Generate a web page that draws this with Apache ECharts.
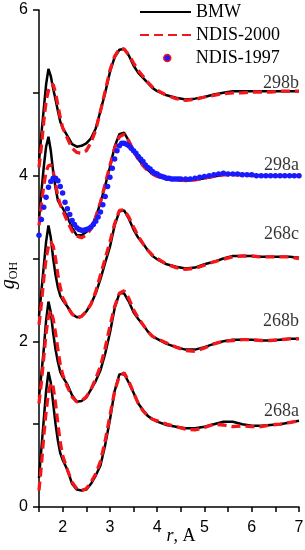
<!DOCTYPE html>
<html>
<head>
<meta charset="utf-8">
<script src="https://cdn.jsdelivr.net/npm/echarts@6/dist/echarts.min.js"></script>
<style>html,body{margin:0;padding:0;background:#fff;}#c{width:305px;height:550px;}</style>
</head>
<body>
<div id="c"></div>
<script>
// shared r grid for the BMW and NDIS-2000 curves
const rGrid = [1.5,1.55,1.6,1.65,1.7,1.75,1.8,1.85,1.9,1.95,2.0,2.1,2.2,2.3,2.4,2.5,2.6,2.7,2.8,2.9,3.0,3.1,3.2,3.3,3.4,3.5,3.6,3.7,3.8,3.9,4.0,4.2,4.4,4.6,4.8,5.0,5.2,5.4,5.6,5.8,6.0,6.2,6.4,6.6,6.8,7.0];

// displayed (shifted) values
const bmw268a  = [0.35,0.7,1.05,1.4,1.63,1.5,1.25,1.0,0.8,0.65,0.57,0.45,0.28,0.21,0.2,0.21,0.28,0.38,0.5,0.75,1.05,1.4,1.6,1.61,1.5,1.38,1.25,1.17,1.1,1.06,1.03,0.99,0.97,0.95,0.95,0.97,1.0,1.03,1.03,1.0,0.98,0.98,0.99,1.0,1.02,1.04];
const ndis268a = [0.2,0.5,0.85,1.15,1.38,1.5,1.45,1.25,1.0,0.78,0.62,0.45,0.3,0.22,0.2,0.22,0.3,0.4,0.55,0.8,1.1,1.4,1.58,1.62,1.52,1.38,1.25,1.16,1.1,1.06,1.04,1.0,0.97,0.94,0.93,0.96,1.0,0.99,0.97,0.98,0.97,0.97,0.99,1.0,1.02,1.04];
const bmw268b  = [1.33,1.6,1.9,2.25,2.48,2.35,2.1,1.9,1.75,1.63,1.57,1.48,1.35,1.27,1.28,1.32,1.42,1.52,1.65,1.85,2.1,2.4,2.58,2.58,2.48,2.35,2.27,2.2,2.12,2.06,2.03,1.97,1.93,1.9,1.9,1.93,1.97,2.0,2.02,2.02,2.02,2.01,2.01,2.02,2.03,2.03];
const ndis268b = [1.25,1.5,1.8,2.1,2.3,2.37,2.27,2.1,1.9,1.72,1.6,1.45,1.33,1.27,1.28,1.33,1.42,1.55,1.7,1.92,2.18,2.42,2.58,2.61,2.52,2.38,2.28,2.2,2.12,2.06,2.03,1.98,1.93,1.89,1.88,1.92,1.97,2.0,2.01,2.02,2.02,2.01,2.01,2.02,2.03,2.03];
const bmw268c  = [2.3,2.6,2.9,3.2,3.4,3.25,3.0,2.8,2.65,2.55,2.5,2.42,2.33,2.29,2.3,2.36,2.45,2.58,2.75,2.95,3.14,3.4,3.57,3.58,3.48,3.35,3.25,3.18,3.1,3.03,2.99,2.93,2.9,2.88,2.89,2.93,2.96,3.0,3.03,3.03,3.03,3.02,3.02,3.02,3.02,3.01];
const ndis268c = [2.2,2.45,2.75,3.0,3.15,3.2,3.15,3.0,2.8,2.65,2.53,2.42,2.33,2.28,2.3,2.36,2.45,2.6,2.8,3.0,3.2,3.42,3.58,3.59,3.5,3.38,3.27,3.18,3.1,3.04,3.0,2.93,2.89,2.87,2.88,2.92,2.96,2.99,3.02,3.03,3.03,3.02,3.02,3.02,3.02,3.0];
const bmw298a  = [3.47,3.8,4.1,4.35,4.47,4.3,4.05,3.85,3.7,3.65,3.61,3.5,3.37,3.28,3.28,3.32,3.37,3.5,3.67,3.88,4.1,4.35,4.5,4.52,4.42,4.3,4.2,4.13,4.07,4.02,3.99,3.96,3.95,3.94,3.95,3.97,3.99,4.01,4.02,4.02,4.01,4.0,4.0,4.0,4.0,4.0];
const ndis298a = [3.4,3.65,3.88,4.05,4.12,4.13,4.05,3.9,3.75,3.65,3.58,3.45,3.33,3.27,3.25,3.28,3.36,3.5,3.68,3.9,4.12,4.33,4.47,4.5,4.42,4.3,4.2,4.12,4.06,4.02,3.99,3.96,3.95,3.94,3.95,3.97,3.99,4.01,4.01,4.01,4.0,4.0,4.0,4.0,4.0,4.0];
const bmw298b  = [4.17,4.5,4.8,5.1,5.29,5.2,5.05,4.92,4.78,4.65,4.58,4.48,4.38,4.35,4.36,4.39,4.45,4.57,4.78,5.0,5.25,5.43,5.52,5.53,5.45,5.33,5.24,5.18,5.12,5.06,5.02,4.97,4.94,4.92,4.93,4.95,4.98,5.0,5.02,5.02,5.02,5.02,5.02,5.02,5.02,5.02];
const ndis298b = [4.1,4.35,4.65,4.9,5.03,5.1,5.1,5.0,4.85,4.7,4.58,4.45,4.33,4.28,4.27,4.3,4.4,4.55,4.78,5.02,5.27,5.44,5.53,5.53,5.46,5.36,5.27,5.2,5.13,5.07,5.03,4.97,4.93,4.91,4.92,4.95,4.97,4.99,5.0,5.0,5.01,5.01,5.01,5.02,5.02,5.02];

// NDIS-1997 points for 298a
const rBlue = [1.5,1.55,1.6,1.65,1.7,1.75,1.8,1.85,1.9,1.95,2.0,2.05,2.1,2.15,2.2,2.25,2.3,2.35,2.4,2.45,2.5,2.55,2.6,2.65,2.7,2.75,2.8,2.85,2.9,2.95,3.0,3.05,3.1,3.15,3.2,3.25,3.3,3.35,3.4,3.45,3.5,3.55,3.6,3.65,3.7,3.75,3.8,3.85,3.9,3.95,4.0,4.05,4.1,4.15,4.2,4.25,4.3,4.35,4.4,4.45,4.5,4.6,4.7,4.8,4.9,5.0,5.1,5.2,5.3,5.4,5.5,5.6,5.7,5.8,5.9,6.0,6.1,6.2,6.3,6.4,6.5,6.6,6.7,6.8,6.9,7.0];
const ndis1997_298a = [3.28,3.47,3.62,3.74,3.86,3.93,3.97,3.97,3.94,3.87,3.79,3.68,3.6,3.53,3.46,3.41,3.37,3.35,3.34,3.34,3.35,3.36,3.38,3.41,3.45,3.5,3.56,3.65,3.75,3.87,3.98,4.09,4.2,4.3,4.36,4.39,4.39,4.38,4.36,4.33,4.3,4.27,4.23,4.2,4.17,4.13,4.1,4.08,4.05,4.03,4.02,4.0,3.99,3.98,3.97,3.97,3.96,3.96,3.96,3.96,3.96,3.96,3.96,3.97,3.98,3.99,4.0,4.01,4.02,4.03,4.02,4.02,4.02,4.01,4.01,4.01,4.0,4.0,4.0,4.0,4.0,4.0,4.0,4.0,4.0,4.0];

// curve labels
const curveLabels = ['268a','268b','268c','298a','298b'];
const labelR = [7,7,7,7,7];
const labelY = [1.15,2.24,3.29,4.12,5.12];

const xTicks = {min:1.5, max:7, interval:0.5};
const yTicks = {min:0, max:6, interval:1};

const SERIF = 'Liberation Serif';
const SANS = 'Liberation Sans';
const BLACK = '#000000';
const RED = '#f5161b';
const BLUE = '#1a1aff';

const zip = (xs, ys) => xs.map((x, i) => [x, ys[i]]);
const bmwSets = [bmw268a, bmw268b, bmw268c, bmw298a, bmw298b];
const ndisSets = [ndis268a, ndis268b, ndis268c, ndis298a, ndis298b];

const series = [];
bmwSets.forEach(s => series.push({
  name: 'BMW', type: 'line', data: zip(rGrid, s), symbol: 'none', showSymbol: false,
  lineStyle: {color: BLACK, width: 2.5}, itemStyle: {color: BLACK}, z: 2, silent: true
}));
ndisSets.forEach(s => series.push({
  name: 'NDIS-2000', type: 'line', data: zip(rGrid, s), symbol: 'none', showSymbol: false,
  lineStyle: {color: RED, width: 3.3, type: [9, 5]}, itemStyle: {color: RED}, z: 3, silent: true
}));
series.push({
  name: 'NDIS-1997', type: 'scatter', data: zip(rBlue, ndis1997_298a), symbol: 'circle', symbolSize: 5.5,
  itemStyle: {color: BLUE, opacity: 1}, z: 4, silent: true
});
series.push({
  type: 'scatter', symbolSize: 0, silent: true, z: 5,
  data: curveLabels.map((t, i) => ({value: [labelR[i], labelY[i]], name: t})),
  label: {show: true, position: 'left', distance: 0, formatter: p => p.name,
    fontFamily: SERIF, fontSize: 18, color: '#000'}
});

const chart = echarts.init(document.getElementById('c'), null, {renderer: 'canvas'});
chart.setOption({
  animation: false,
  backgroundColor: '#fff',
  grid: {left: 39, right: 6, top: 10, bottom: 43, containLabel: false, outerBoundsMode: 'none'},
  legend: [{
    orient: 'vertical', left: 139, top: 3, padding: 0, itemWidth: 51, itemHeight: 14, itemGap: 5,
    textStyle: {fontFamily: SERIF, fontSize: 18, color: '#000', lineHeight: 18},
    data: [{name: 'BMW', itemStyle: {opacity: 0}}, {name: 'NDIS-2000', itemStyle: {opacity: 0}}],
    selectedMode: false
  }, {
    orient: 'vertical', left: 163, top: 49, padding: 0, itemWidth: 7, itemHeight: 7,
    textStyle: {fontFamily: SERIF, fontSize: 18, color: '#000', lineHeight: 18, padding: [0, 0, 0, 20]},
    data: [{name: 'NDIS-1997', icon: 'circle', itemStyle: {color: BLUE, borderColor: RED, borderWidth: 1.5}}],
    selectedMode: false
  }],
  xAxis: {
    type: 'value', min: xTicks.min, max: xTicks.max, interval: xTicks.interval,
    axisLine: {show: true, onZero: false, lineStyle: {color: BLACK, width: 1.5}},
    axisTick: {show: true, length: 5, lineStyle: {color: BLACK, width: 1.5}},
    splitLine: {show: false},
    axisLabel: {margin: 13, fontFamily: SANS, fontSize: 16, color: '#000',
      formatter: v => (Math.abs(v - Math.round(v)) < 1e-6 ? String(Math.round(v)) : '')},
    name: '{i|r}{n|, A}', nameLocation: 'middle', nameGap: 20, nameMoveOverlap: false,
    nameTextStyle: {padding: [0, 0, 0, 24], rich: {
      i: {fontFamily: SERIF, fontStyle: 'italic', fontSize: 18, color: '#000'},
      n: {fontFamily: SERIF, fontSize: 18, color: '#000'}}}
  },
  yAxis: {
    type: 'value', min: yTicks.min, max: yTicks.max, interval: yTicks.interval,
    axisLine: {show: true, onZero: false, lineStyle: {color: BLACK, width: 1.5}},
    axisTick: {show: true, length: 6, lineStyle: {color: BLACK, width: 1.5}},
    splitLine: {show: false},
    axisLabel: {margin: 11, fontFamily: SANS, fontSize: 16, color: '#000',
      formatter: v => (v % 2 === 0 ? String(v) : '')},
    name: '{i|g}{s|OH}', nameLocation: 'middle', nameGap: 19, nameMoveOverlap: false,
    nameTextStyle: {padding: [0, 34, 0, 0], rich: {
      i: {fontFamily: SERIF, fontStyle: 'italic', fontSize: 20, color: '#000', lineHeight: 22},
      s: {fontFamily: SERIF, fontSize: 12, color: '#000', verticalAlign: 'bottom', lineHeight: 10}}}
  },
  series: series
});
</script>
</body>
</html>
